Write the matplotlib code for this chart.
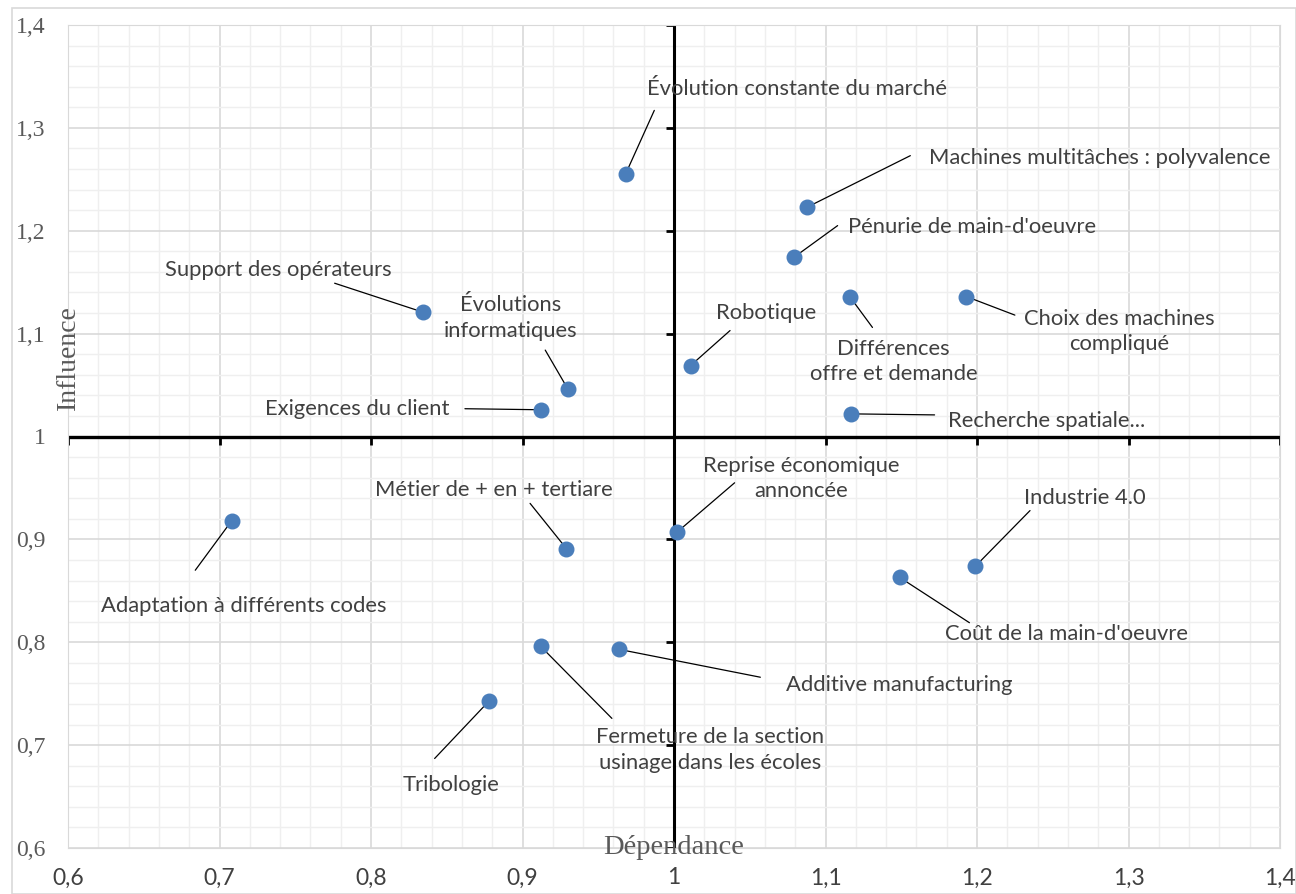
import numpy as np
import matplotlib.pyplot as plt
from matplotlib.patches import Rectangle
from matplotlib.ticker import MultipleLocator, FuncFormatter

# Données : dépendance (x) et influence (y) des facteurs
labels = ["Évolution constante du marché", "Machines multitâches : polyvalence",
          "Pénurie de main-d'oeuvre", "Support des opérateurs",
          "Évolutions\ninformatiques", "Exigences du client", "Robotique",
          "Différences\noffre et demande", "Choix des machines\ncompliqué",
          "Recherche spatiale...", "Reprise économique\nannoncée",
          "Métier de + en + tertiare", "Adaptation à différents codes",
          "Industrie 4.0", "Coût de la main-d'oeuvre", "Additive manufacturing",
          "Fermeture de la section\nusinage dans les écoles", "Tribologie"]
dependance = [0.968, 1.088, 1.079, 0.834, 0.930, 0.912, 1.011, 1.116, 1.193,
              1.117, 1.002, 0.929, 0.708, 1.199, 1.149, 0.964, 0.912, 0.878]
influence = [1.255, 1.223, 1.174, 1.121, 1.046, 1.026, 1.069, 1.136, 1.136,
             1.022, 0.907, 0.891, 0.918, 0.874, 0.863, 0.793, 0.796, 0.743]

# position des étiquettes et début des traits de rappel
label_xy = [(1.081, 1.338), (1.281, 1.271), (1.197, 1.204), (0.739, 1.162),
            (0.892, 1.115), (0.791, 1.027), (1.061, 1.120), (1.145, 1.073),
            (1.294, 1.102), (1.246, 1.015), (1.084, 0.959), (0.881, 0.948),
            (0.716, 0.835), (1.271, 0.940), (1.259, 0.808), (1.149, 0.758),
            (1.024, 0.695), (0.853, 0.661)]
leader_xy = [(0.987, 1.317), (1.156, 1.273), (1.108, 1.205), (0.776, 1.149),
             (0.915, 1.084), (0.862, 1.027), (1.037, 1.103), (1.131, 1.106),
             (1.225, 1.118), (1.172, 1.021), (1.040, 0.955), (0.905, 0.935),
             (0.684, 0.870), (1.235, 0.928), (1.195, 0.819), (1.057, 0.766),
             (0.959, 0.726), (0.842, 0.687)]

ticks = np.round(np.arange(0.6, 1.41, 0.1), 1)

fig = plt.figure(figsize=(12.96, 8.94), dpi=100)
fig.patches.append(Rectangle((12/1296, 0), 1 - 12/1296, 1 - 8/894, transform=fig.transFigure,
                             fill=False, edgecolor="#d9d9d9", lw=1.2))
ax = fig.add_axes([68/1296, 46/894, 1212/1296, 823/894])
ax.set_xlim(0.6, 1.4)
ax.set_ylim(0.6, 1.4)
ax.xaxis.set_major_locator(MultipleLocator(0.1))
ax.yaxis.set_major_locator(MultipleLocator(0.1))
ax.xaxis.set_minor_locator(MultipleLocator(0.02))
ax.yaxis.set_minor_locator(MultipleLocator(0.02))
ax.grid(True, which="major", color="#d9d9d9", lw=1.2, zorder=0)
ax.grid(True, which="minor", color="#efefef", lw=1.0, zorder=0)
ax.set_axisbelow(True)
for s in ax.spines.values():
    s.set_color("#d9d9d9")

fmt = FuncFormatter(lambda v, p: ("%g" % round(v, 1)).replace(".", ","))
ax.xaxis.set_major_formatter(fmt)
ax.yaxis.set_major_formatter(fmt)
ax.tick_params(which="both", length=0)
ax.tick_params(axis="x", pad=14, labelsize=16.5, labelcolor="#404040", labelfontfamily="Lato")
ax.tick_params(axis="y", pad=16, labelsize=17, labelcolor="#595959",
               labelfontfamily="Liberation Serif")

# axes croisés en (1, 1)
ax.axhline(1, color="black", lw=2.4, zorder=2)
ax.axvline(1, color="black", lw=2.2, zorder=2)
ax.plot(ticks, np.ones_like(ticks), ls="none", marker=3, ms=6, mew=2, color="black", zorder=2)
ax.plot(np.ones_like(ticks), ticks, ls="none", marker=0, ms=6, mew=2, color="black", zorder=2)

ax.scatter(dependance, influence, s=110, color="#4a7ebb", zorder=4)

for lab, (lx, ly), (sx, sy), px, py in zip(labels, label_xy, leader_xy, dependance, influence):
    ax.annotate("", xy=(px, py), xytext=(sx, sy),
                arrowprops=dict(arrowstyle="-", color="black", lw=0.9, shrinkA=0, shrinkB=5),
                zorder=3)
    ax.text(lx, ly, lab, ha="center", va="center", fontsize=15.8, family="Lato",
            color="#404040", linespacing=1.35, zorder=5)

ax.text(1.0, 0.6, "Dépendance", ha="center", va="center", fontsize=20.5,
        family="Liberation Serif", color="#595959", zorder=5)
ax.text(0.6, 1.077, "Influence", ha="center", va="center", rotation=90, fontsize=20,
        family="Liberation Serif", color="#595959", zorder=5)

fig.savefig("out.png", dpi=100)
